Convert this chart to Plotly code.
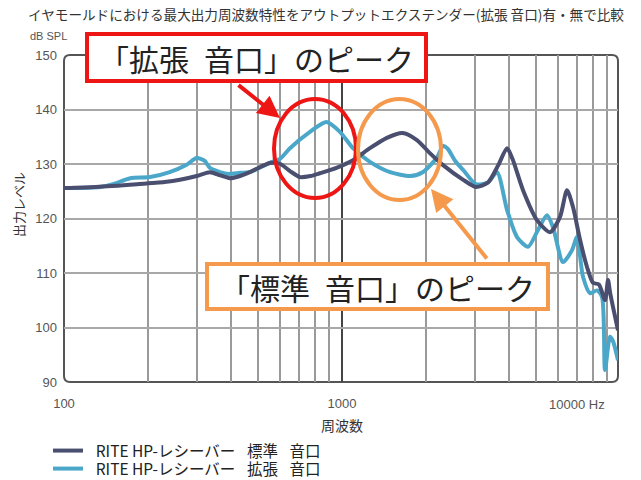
import plotly.graph_objects as go

# ---- data ----
std_freq = [100, 130, 183, 230, 261, 300, 335, 365, 395, 430, 466, 510, 550, 600,
            650, 706, 770, 832, 955, 1095, 1260, 1450, 1650, 1860, 2070, 2310,
            2730, 3030, 3350, 3650, 3922, 4100, 4479, 5028, 5601, 6084, 6447,
            6774, 7181, 7609, 7997, 8400, 8832, 9055, 9204, 9435, 9835]
std_db = [125.6, 125.8, 126.3, 126.7, 127.1, 127.8, 128.5, 127.9, 127.4, 127.8,
          128.5, 129.5, 130.2, 130.0, 128.7, 127.6, 127.8, 128.3, 129.3, 130.7,
          132.9, 134.8, 135.7, 134.4, 132.0, 129.8, 127.1, 125.8, 126.6, 129.8,
          132.9, 131.0, 125.2, 119.7, 117.5, 120.3, 125.2, 122.1, 116.1, 111.1,
          108.2, 107.9, 105.0, 108.7, 106.5, 103.8, 99.5]

ext_freq = [100, 135, 150, 173, 204, 240, 275, 300, 320, 335, 385, 430, 466, 550,
            600, 650, 767, 880, 983, 1095, 1260, 1490, 1760, 1950, 2190, 2310,
            2400, 2550, 2730, 3030, 3350, 3611, 3922, 4262, 4669, 5070, 5463,
            5741, 6237, 6721, 7003, 7360, 7800, 8268, 8617, 8832, 9204, 9435, 9835]
ext_db = [125.6, 125.8, 126.3, 127.4, 127.6, 128.5, 129.8, 131.1, 130.6, 129.3,
          128.2, 128.4, 128.5, 130.2, 131.0, 132.9, 135.9, 137.7, 135.9, 132.9,
          130.4, 128.5, 127.8, 128.5, 131.1, 133.3, 132.8, 130.6, 128.9, 126.3,
          126.6, 128.5, 121.6, 116.6, 114.8, 117.9, 120.6, 118.4, 112.0, 114.2,
          116.6, 109.3, 106.3, 106.8, 105.6, 92.2, 98.3, 97.5, 94.0]

SP = "\u2002\u2005"
series_names = ["\u2002RITE HP-レシーバー" + SP + "標準" + SP + "音口",
                "\u2002RITE HP-レシーバー" + SP + "拡張" + SP + "音口"]

y_ticks = [90, 100, 110, 120, 130, 140, 150]
x_major = [100, 1000]
x_major_text = ["100", "1000"]
x_minor = [200, 300, 400, 500, 600, 700, 800, 900,
           2000, 3000, 4000, 5000, 6000, 7000, 8000, 9000]
x_last_label = "10000 Hz"

title_text = "イヤモールドにおける最大出力周波数特性をアウトプットエクステンダー(拡張 音口)有・無で比較"
label_ext = "「拡張\u2002音口」のピーク"
label_std = "「標準\u2002音口」のピーク"

DARK = "#4a4e6f"
LIGHT = "#4aa7c9"
RED = "#ee1515"
ORANGE = "#f5994d"
JP = "Noto Sans CJK JP, Noto Sans, sans-serif"
LAT = "Liberation Sans, Arial, sans-serif"

fig = go.Figure()
fig.add_trace(go.Scatter(x=ext_freq, y=ext_db, mode="lines", name=series_names[1],
                         line=dict(color=LIGHT, width=4, shape="spline", smoothing=0.7),
                         legend="legend2"))
fig.add_trace(go.Scatter(x=std_freq, y=std_db, mode="lines", name=series_names[0],
                         line=dict(color=DARK, width=4, shape="spline", smoothing=0.7),
                         legend="legend"))

W, H = 641, 480
L, R, T, B = 64, 23, 55, 98
pw, ph = W - L - R, H - T - B

def px(xp):
    return (xp - L) / pw

def py(yp):
    return (H - B - yp) / ph

# rounded frame
rx, ry = 6 / pw, 6 / ph
frame = (f"M {rx},0 L {1-rx},0 Q 1,0 1,{ry} L 1,{1-ry} Q 1,1 {1-rx},1 "
         f"L {rx},1 Q 0,1 0,{1-ry} L 0,{ry} Q 0,0 {rx},0 Z")

shapes = [
    dict(type="path", xref="paper", yref="paper", path=frame,
         line=dict(color="#555555", width=2), layer="between"),
    dict(type="circle", xref="paper", yref="paper",
         x0=px(274), x1=px(356), y0=py(198), y1=py(99),
         line=dict(color=RED, width=4)),
    dict(type="circle", xref="paper", yref="paper",
         x0=px(358), x1=px(441), y0=py(200), y1=py(99),
         line=dict(color=ORANGE, width=4)),
]

def txt(x, y, text, font, **kw):
    d = dict(x=px(x), y=py(y), xref="paper", yref="paper", text=text,
             showarrow=False, xanchor="center", yanchor="middle", font=font)
    d.update(kw)
    return d

annotations = [
    # arrows
    dict(x=px(280), y=py(118), xref="paper", yref="paper", text="", showarrow=True,
         ax=237 - 280, ay=84 - 118, arrowcolor=RED, arrowwidth=4, arrowhead=2,
         arrowsize=1.1),
    dict(x=px(431), y=py(189), xref="paper", yref="paper", text="", showarrow=True,
         ax=488 - 431, ay=260 - 189, arrowcolor=ORANGE, arrowwidth=4, arrowhead=2,
         arrowsize=1.1),
    # callout boxes
    txt(256.5, 57.5, label_ext, dict(family=JP, size=30, color="#222222"),
        bgcolor="white", bordercolor=RED, borderwidth=4, borderpad=0,
        width=335, height=43),
    txt(377.5, 286.5, label_std, dict(family=JP, size=30, color="#222222"),
        bgcolor="white", bordercolor=ORANGE, borderwidth=4, borderpad=0,
        width=337, height=41),
    # axis texts
    txt(48, 36, "dB SPL", dict(family=LAT, size=11, color="#555555")),
    txt(18, 205, "出力レベル", dict(family=JP, size=13, color="#333333"), textangle=-90),
    txt(342, 425, "周波数", dict(family=JP, size=14, color="#333333")),
    txt(607, 404, x_last_label, dict(family=LAT, size=13, color="#555555"),
        xanchor="right"),
]

fig.update_layout(
    width=W, height=H,
    margin=dict(l=L, r=R, t=T, b=B, autoexpand=False),
    paper_bgcolor="white", plot_bgcolor="white",
    title=dict(text=title_text, x=326 / W, xanchor="center", y=1 - 15 / H,
               yanchor="middle", font=dict(family=JP, size=13.6, color="#333333")),
    shapes=shapes, annotations=annotations,
    legend=dict(x=px(48), y=py(451), xanchor="left", yanchor="middle",
                font=dict(family=JP, size=15.5, color="#222222"),
                bgcolor="rgba(0,0,0,0)", itemwidth=30),
    legend2=dict(x=px(48), y=py(469), xanchor="left", yanchor="middle",
                 font=dict(family=JP, size=15.5, color="#222222"),
                 bgcolor="rgba(0,0,0,0)", itemwidth=30),
    showlegend=True,
)

fig.update_xaxes(type="log", range=[2, 3.9928], tickmode="array",
                 tickvals=x_major, ticktext=x_major_text,
                 showgrid=True, gridcolor="#444444", gridwidth=2,
                 minor=dict(tickvals=x_minor, showgrid=True, gridcolor="#9a9a9a",
                            gridwidth=1.5, ticks=""),
                 ticks="", ticklabelstandoff=12, zeroline=False, showline=False,
                 tickfont=dict(family=LAT, size=13, color="#555555"))
fig.update_yaxes(range=[90, 150], tickmode="array", tickvals=y_ticks,
                 showgrid=True, gridcolor="#a8a8a8", gridwidth=2,
                 ticks="", ticklabelstandoff=6, zeroline=False, showline=False,
                 tickfont=dict(family=LAT, size=13, color="#555555"))

fig.write_html("out.html",
               config={"displayModeBar": False},
               post_script="document.body.style.margin='0px';"
                           "document.body.style.overflow='hidden';")
